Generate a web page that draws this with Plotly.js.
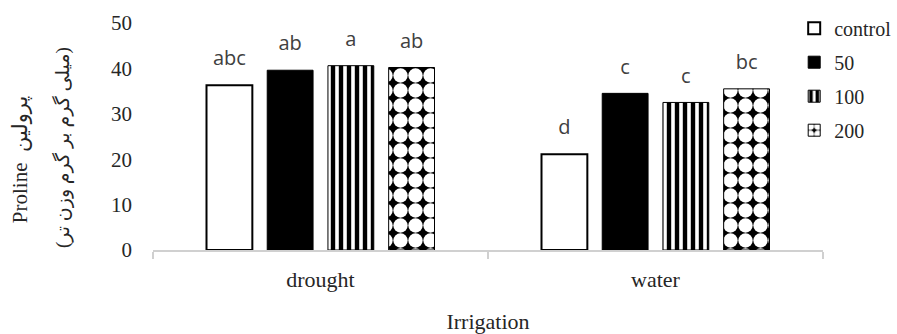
<!DOCTYPE html>
<html>
<head>
<meta charset="utf-8">
<script src="https://cdn.plot.ly/plotly-3.0.1.min.js"></script>
<style>
  html, body { margin: 0; padding: 0; background: #fff; }
  #chart { width: 897px; height: 334px; }
</style>
</head>
<body>
<div id="chart"></div>
<script>
// Irrigation groups on the x axis
const irrigation = ['drought', 'water'];

// Treatment levels (legend entries)
const treatments = ['control', '50', '100', '200'];

// Proline (mg/g fresh weight) per treatment, one value per irrigation group
const controlValues = [36.3, 21.1];
const t50Values     = [39.6, 34.5];
const t100Values    = [40.6, 32.5];
const t200Values    = [40.2, 35.5];

// Mean-separation letters shown above each bar
const controlLetters = ['abc', 'd'];
const t50Letters     = ['ab', 'c'];
const t100Letters    = ['a', 'c'];
const t200Letters    = ['ab', 'bc'];

const seriesValues  = [controlValues, t50Values, t100Values, t200Values];
const seriesLetters = [controlLetters, t50Letters, t100Letters, t200Letters];

// Fill style for each treatment
const markerStyles = [
  { color: '#ffffff', line: { color: '#000000', width: 2 } },
  { color: '#000000', line: { color: '#000000', width: 1 } },
  { color: '#ffffff', line: { color: '#000000', width: 1 },
    pattern: { shape: '|', fgcolor: '#000000', bgcolor: '#ffffff', size: 8, solidity: 0.55, fillmode: 'replace' } },
  { color: '#000000', line: { color: '#000000', width: 1 },
    pattern: { shape: '.', fgcolor: '#ffffff', bgcolor: '#000000', size: 15, solidity: 0.72, fillmode: 'replace' } }
];

const serif = 'Liberation Serif, Times New Roman, DejaVu Sans, serif';

const traces = [];
treatments.forEach((name, i) => {
  traces.push({
    type: 'bar',
    name: name,
    x: irrigation,
    y: seriesValues[i],
    offsetgroup: 'g' + i,
    legendgroup: 'g' + i,
    marker: markerStyles[i],
    hoverinfo: 'x+y+name'
  });
});

// Letter labels, grouped the same way as the bars so they sit above them
treatments.forEach((name, i) => {
  traces.push({
    type: 'scatter',
    mode: 'markers+text',
    x: irrigation,
    y: seriesValues[i],
    text: seriesLetters[i],
    textposition: 'top center',
    textfont: { family: 'Open Sans, sans-serif', size: 20, color: '#404040' },
    marker: { size: 22, color: 'rgba(0,0,0,0)' },
    offsetgroup: 'g' + i,
    showlegend: false,
    hoverinfo: 'skip',
    cliponaxis: false
  });
});

const layout = {
  width: 897,
  height: 334,
  paper_bgcolor: '#ffffff',
  plot_bgcolor: '#ffffff',
  margin: { l: 153, r: 74, t: 23, b: 84, autoexpand: false },
  barmode: 'group',
  scattermode: 'group',
  bargap: 0.275,
  bargroupgap: 0.245,
  font: { family: serif, color: '#262626' },
  xaxis: {
    type: 'category',
    showline: true,
    linecolor: '#d0d0d0',
    linewidth: 2,
    ticks: 'outside',
    tickson: 'boundaries',
    ticklen: 7,
    tickwidth: 2,
    tickcolor: '#d0d0d0',
    showgrid: false,
    zeroline: false,
    tickfont: { family: serif, size: 22, color: '#262626' },
    ticklabelstandoff: 9,
    title: { text: 'Irrigation', font: { family: serif, size: 22, color: '#262626' }, standoff: 22 }
  },
  yaxis: {
    range: [0, 50],
    dtick: 10,
    showgrid: false,
    showline: false,
    zeroline: false,
    ticks: '',
    ticklabelstandoff: 20,
    tickfont: { family: serif, size: 21, color: '#262626' }
  },
  legend: {
    x: 0.957,
    xanchor: 'left',
    y: 1.063,
    yanchor: 'top',
    bgcolor: 'rgba(0,0,0,0)',
    font: { family: serif, size: 20, color: '#262626' },
    traceorder: 'grouped',
    tracegroupgap: 5
  },
  annotations: [
    {
      xref: 'paper', yref: 'paper',
      x: -0.1985, y: 0.40,
      xanchor: 'center', yanchor: 'middle',
      textangle: -90,
      showarrow: false,
      text: 'Proline  پرولین',
      font: { family: serif, size: 21, color: '#262626' }
    },
    {
      xref: 'paper', yref: 'paper',
      x: -0.134, y: 0.45,
      xanchor: 'center', yanchor: 'middle',
      textangle: -90,
      showarrow: false,
      text: '(میلی گرم بر گرم وزن تر)',
      font: { family: serif, size: 19, color: '#262626' }
    }
  ]
};

Plotly.newPlot('chart', traces, layout, { displayModeBar: false, staticPlot: true });
</script>
</body>
</html>
